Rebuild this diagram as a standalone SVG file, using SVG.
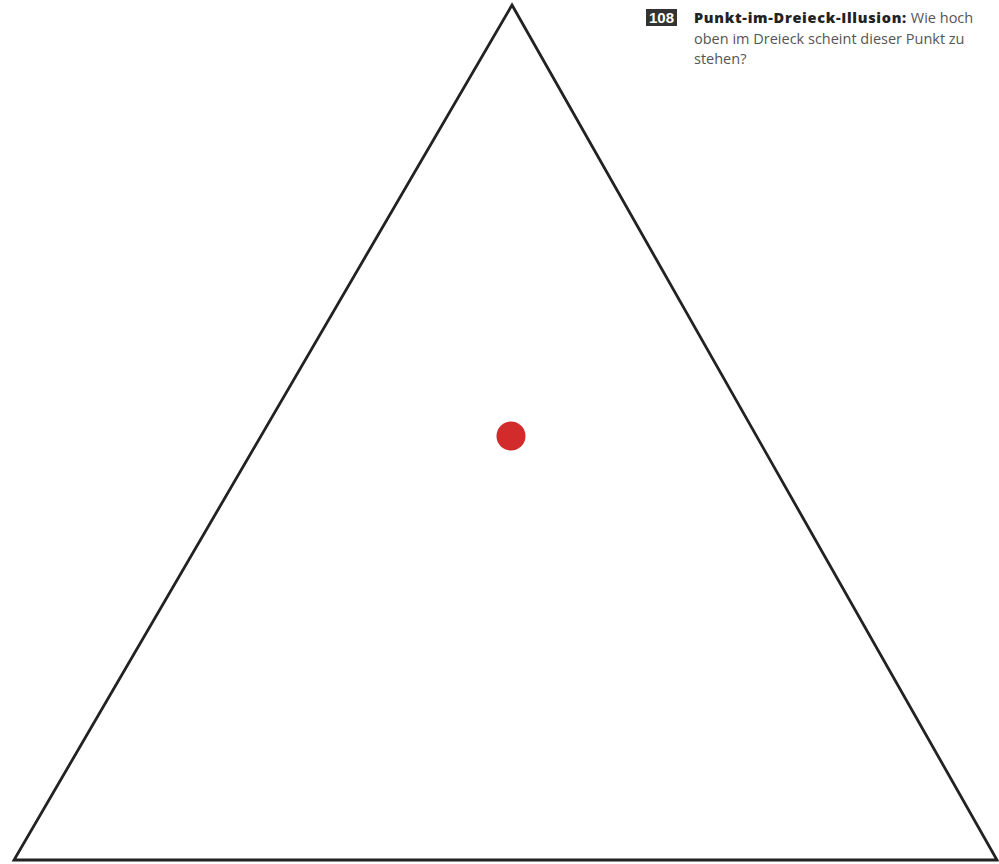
<svg xmlns="http://www.w3.org/2000/svg" width="999" height="864" viewBox="0 0 999 864">
<style>
.tri{fill:none;stroke:#222;stroke-width:2.8;stroke-linejoin:miter}
.t{font-family:"Open Sans","Liberation Sans",sans-serif;font-size:14.5px;fill:#555}
.b{font-weight:800;fill:#222;letter-spacing:0.7px}
</style>
<rect width="999" height="864" fill="#fff"/>
<g id="triangle"><path class="tri" d="M512,5 L997,860 L14,860 Z"/></g>
<g id="dot"><circle cx="511" cy="436" r="14.5" fill="#d12b2b"/></g>
<g id="caption">
<rect x="646" y="9" width="31" height="17" fill="#333"/>
<text x="661.5" y="23" text-anchor="middle" font-family="Liberation Sans,sans-serif" font-size="15" font-weight="bold" fill="#fff">108</text>
<text class="t" x="694" y="23"><tspan class="b">Punkt-im-Dreieck-Illusion:</tspan> Wie hoch</text>
<text class="t" x="694" y="44">oben im Dreieck scheint dieser Punkt zu</text>
<text class="t" x="694" y="64">stehen?</text>
</g>
</svg>
